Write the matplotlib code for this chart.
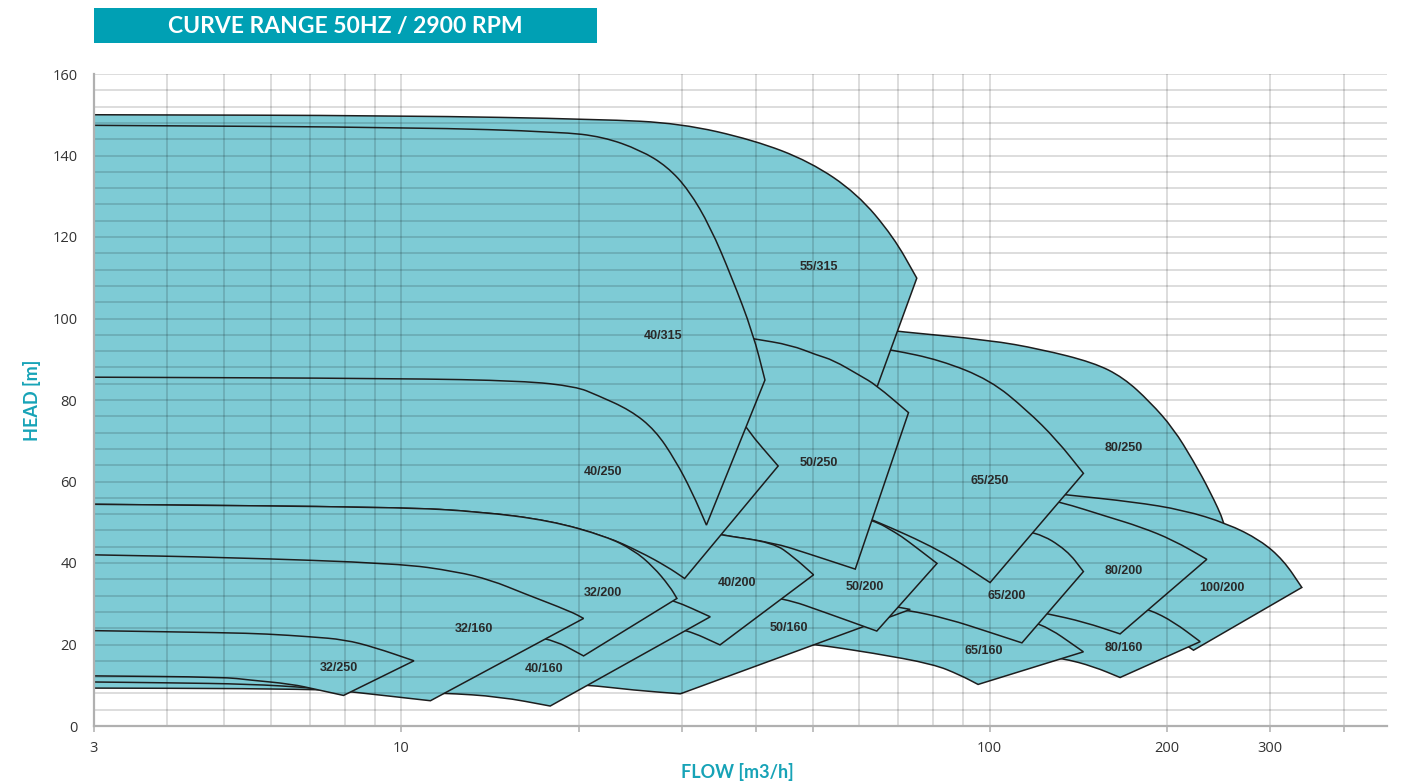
import matplotlib
matplotlib.use("Agg")
import matplotlib.pyplot as plt
from matplotlib.patches import Rectangle, PathPatch
from matplotlib.path import Path
from matplotlib.ticker import FixedLocator, NullFormatter, FixedFormatter

# pump ranges: max impeller curve (top) and min impeller curve (bottom), (Q m3/h, H m)
top_32_250 = [(3, 23.4), (5, 22.9), (5.9, 22.6), (7.0, 21.9), (8.0, 21.2), (9.0, 19.3), (10.5, 16.0)]
bot_32_250 = [(3, 12.3), (5, 12.0), (5.5, 11.3), (6.5, 10.3), (7.2, 8.9), (7.97, 7.5)]

top_32_160 = [(3, 42.0), (5, 41.4), (9.9, 39.9), (12.4, 37.9), (14.2, 35.8), (16.1, 32.6), (19.4, 28.1), (20.4, 26.4)]
bot_32_160 = [(3, 10.8), (4, 10.6), (5.5, 10.3), (7, 9.4), (8.2, 8.4), (11.2, 6.2)]

top_32_200 = [(3, 54.4), (9.9, 53.7), (13.6, 52.6), (17.9, 50.4), (22.3, 46.5), (24.8, 43.2), (26.8, 39.1), (28.6, 34.2), (29.4, 31.3)]
bot_32_200 = [(3, 27), (8, 26), (13, 24.3), (17.8, 21.8), (20.4, 17.2)]

top_40_160 = [(3, 38), (12, 37), (20, 35.5), (25, 33.5), (29.0, 30.9), (33.5, 26.8)]
bot_40_160 = [(3, 9.3), (5.5, 9.2), (8, 8.8), (11.8, 8.1), (14.7, 7.2), (17.9, 4.9)]

top_40_200 = [(3, 56), (10, 55.5), (17.9, 53.8), (22.3, 51.8), (25.4, 50.3), (30, 48.7), (34.8, 46.9), (42.9, 45.0), (46.4, 41.5), (50.2, 37.1)]
bot_40_200 = [(3, 29.5), (10, 29), (20, 27.5), (26, 25.5), (30.6, 23.6), (34.8, 19.9)]

top_40_250 = [(3, 100), (10, 99), (20, 97), (28, 92), (33, 86), (36, 80), (38.6, 72.8), (43.7, 63.8)]
bot_40_250 = [(3, 54.4), (9.9, 53.7), (13.6, 52.6), (17.9, 50.4), (22.3, 46.5), (25.4, 42.8), (28.3, 39.1), (30.3, 36.2)]

top_40_315 = [(3, 147.4), (10.6, 146.9), (18.6, 145.8), (22.0, 144.6), (25.5, 141.3), (28.3, 137.3), (30.8, 131.5),
              (33.5, 122.5), (36.4, 110.3), (39.6, 96.4), (41.5, 84.9)]
bot_40_315 = [(3, 85.6), (9.9, 85.3), (16.1, 84.7), (19.8, 83.3), (21.5, 81.2), (24.5, 77.5), (27.0, 72.6),
              (29.2, 65.3), (31.2, 57.4), (33.0, 49.3)]

top_50_160 = [(3, 37), (15, 36.5), (30, 35.2), (40, 34.3), (50, 33), (62, 30.5), (68, 29.5), (73.3, 28.6)]
bot_50_160 = [(3, 12.5), (10, 12), (15, 11.2), (20.7, 10.1), (24.8, 8.8), (29.8, 7.9)]

top_50_200 = [(3, 56.5), (30, 55.8), (45, 53.5), (55, 52.2), (63.4, 50.6), (69.5, 47.3), (72.3, 45.6), (81.4, 39.9)]
bot_50_200 = [(3, 36), (25, 35), (35, 33.5), (44.9, 31.3), (52.2, 28), (64.3, 23.3)]

top_50_250 = [(3, 98), (30, 97), (36, 96), (39.8, 95), (45.9, 93.5), (50.9, 91), (54.2, 89.8), (60.2, 86),
              (64.1, 83.7), (72.8, 76.9)]
bot_50_250 = [(3, 55.5), (10, 55.2), (17.9, 53.8), (22.3, 51.8), (25.4, 50.3), (30, 48.7), (34.8, 46.9),
              (42.9, 45.0), (48.9, 42.4), (59.1, 38.5)]

top_55_315 = [(3, 150), (10, 149.8), (21.8, 148.9), (29.8, 147.9), (39.7, 143.8), (49.5, 138.5), (59.5, 130.7),
              (68.6, 120.1), (75.2, 109.9)]
bot_55_315 = [(3, 92), (20, 90), (40, 86), (55, 80), (61.4, 75.1)]

top_65_160 = [(3, 33), (30, 32.5), (60, 31.2), (80, 29.5), (100, 27.8), (121.9, 25.6), (144.4, 18.2)]
bot_65_160 = [(3, 25), (20, 24.5), (35, 22.5), (50.2, 20.1), (63.4, 17.9), (80.2, 15.2), (89.1, 12.5), (95.6, 10.2)]

top_65_200 = [(3, 57), (30, 56.5), (50, 54), (63.4, 52), (82.4, 50.3), (100, 49), (120.3, 47.7), (135.3, 43.2), (144.4, 37.9)]
bot_65_200 = [(3, 33), (40, 31.5), (60, 30), (72.3, 28.5), (85, 26.3), (100, 23.0), (113.5, 20.4)]

top_65_250 = [(3, 95), (40, 94.8), (60, 93.5), (68.2, 92.3), (82.4, 89.8), (100.2, 84.9), (115.7, 77.5),
              (130.1, 70.2), (144.4, 62.0)]
bot_65_250 = [(3, 58), (40, 57), (55, 54), (63.4, 50.6), (82.4, 43.2), (100.2, 35.2)]

top_80_160 = [(3, 38), (50, 37.5), (90, 36), (126, 33.5), (165, 31), (187.5, 28.5), (205.4, 25.6), (228.1, 20.7)]
bot_80_160 = [(3, 24), (40, 23.5), (70, 22), (100, 19.5), (133.4, 16.6), (150.2, 14.6), (166.7, 11.9)]

top_80_200 = [(3, 63), (40, 62.5), (63.4, 61), (90, 59.5), (110, 57.5), (131.9, 55), (158.3, 51.4), (180.3, 48.9),
              (205.4, 45.6), (234.1, 40.9)]
bot_80_200 = [(3, 34), (50, 33.5), (72, 31.5), (90, 30), (110, 29), (125.2, 27.6), (145, 25.5), (166.7, 22.6)]

top_80_250 = [(3, 100), (40, 99.5), (60, 98), (70, 96.8), (100, 94.7), (121.9, 92.5), (150.2, 89.2), (168.9, 85.5),
              (187.5, 79.5), (205.4, 73), (222.2, 65), (237.2, 57.5), (251.5, 49.6), (258, 42)]
bot_80_250 = [(3, 40), (60, 39.5), (100, 37.5), (150, 34), (190, 30)]

top_100_200 = [(3, 62), (50, 61.5), (80, 60), (110, 58.2), (135.3, 56.7), (175.6, 55.0), (213.6, 53.0),
               (253.3, 49.7), (288.6, 45.6), (316, 40.7), (339.6, 34.0)]
bot_100_200 = [(3, 33), (50, 32.5), (90, 31), (125, 28.5), (166.7, 25.5), (200, 22), (215, 20), (222.2, 18.6)]

# drawn back to front, later ranges cover the hidden parts of earlier ones
pumps = [
    ("80/250", top_80_250, bot_80_250),
    ("100/200", top_100_200, bot_100_200),
    ("80/160", top_80_160, bot_80_160),
    ("80/200", top_80_200, bot_80_200),
    ("65/160", top_65_160, bot_65_160),
    ("65/200", top_65_200, bot_65_200),
    ("65/250", top_65_250, bot_65_250),
    ("55/315", top_55_315, bot_55_315),
    ("50/160", top_50_160, bot_50_160),
    ("50/200", top_50_200, bot_50_200),
    ("50/250", top_50_250, bot_50_250),
    ("40/200", top_40_200, bot_40_200),
    ("40/250", top_40_250, bot_40_250),
    ("40/315", top_40_315, bot_40_315),
    ("40/160", top_40_160, bot_40_160),
    ("32/200", top_32_200, bot_32_200),
    ("32/160", top_32_160, bot_32_160),
    ("32/250", top_32_250, bot_32_250),
]

label_at = {
    "55/315": (51.2, 112.7), "40/315": (27.9, 95.7), "40/250": (22.0, 62.4), "50/250": (51.2, 64.5),
    "65/250": (99.9, 60.0), "80/250": (168.9, 68.1), "40/200": (37.2, 35.2), "32/200": (22.0, 32.6),
    "50/200": (61.4, 34.0), "65/200": (107, 31.9), "80/200": (168.9, 38.0), "100/200": (248.3, 33.8),
    "32/160": (13.3, 23.7), "40/160": (17.5, 13.9), "50/160": (45.5, 24.1), "65/160": (97.9, 18.4),
    "80/160": (168.9, 19.1), "32/250": (7.84, 14.3),
}

x_major = [3, 10, 20, 30, 40, 50, 100, 200, 300, 400]
x_labels = ["3", "10", "", "", "", "", "100", "200", "300", ""]
x_minor = [4, 5, 6, 7, 8, 9, 60, 70, 80, 90]

TEAL = "#00A0B4"
FILL = "#7ECBD5"
EDGE = "#1e1e1e"


def mid(a, b):
    # halfway point on the log flow axis
    return ((a[0] * b[0]) ** 0.5, (a[1] + b[1]) / 2)


def curve_segments(pts):
    # quadratic bezier pieces through the midpoints, ends kept exact
    verts, codes = [], []
    if len(pts) > 2:
        verts.append(mid(pts[0], pts[1]))
        codes.append(Path.LINETO)
        for i in range(1, len(pts) - 1):
            verts += [pts[i], mid(pts[i], pts[i + 1])]
            codes += [Path.CURVE3, Path.CURVE3]
    verts.append(pts[-1])
    codes.append(Path.LINETO)
    return verts, codes


def range_paths(top, bot):
    verts, codes = [top[0]], [Path.MOVETO]
    v, c = curve_segments(top)
    verts += v
    codes += c
    rb = bot[::-1]
    verts.append(rb[0])
    codes.append(Path.LINETO)
    v, c = curve_segments(rb)
    verts += v
    codes += c
    outline = Path(verts, codes)
    area = Path(verts + [top[0]], codes + [Path.LINETO])
    return area, outline


fig = plt.figure(figsize=(14.05, 7.82), dpi=100)
ax = fig.add_axes([94 / 1405, 56 / 782, 1293 / 1405, 652 / 782])
ax.set_xscale("log")
ax.set_xlim(3, 474)
ax.set_ylim(0, 160)

z = 1.0
for name, top, bot in pumps:
    area, outline = range_paths(top, bot)
    ax.add_patch(PathPatch(area, facecolor=FILL, edgecolor="none", lw=0, zorder=z))
    ax.add_patch(PathPatch(outline, facecolor="none", edgecolor=EDGE, lw=1.1, joinstyle="miter", zorder=z + 0.01))
    z += 0.05

for name, (qx, hy) in label_at.items():
    ax.text(qx, hy, name, ha="center", va="center", fontsize=9, fontweight="bold",
            color="#2a2a2a", family=["Liberation Sans", "DejaVu Sans"], zorder=5)

ax.set_xlim(3, 474)
ax.set_ylim(0, 160)

ax.xaxis.set_major_locator(FixedLocator(x_major))
ax.xaxis.set_major_formatter(FixedFormatter(x_labels))
ax.xaxis.set_minor_locator(FixedLocator(x_minor))
ax.xaxis.set_minor_formatter(NullFormatter())
ax.yaxis.set_major_locator(FixedLocator(list(range(0, 161, 20))))
ax.yaxis.set_minor_locator(FixedLocator(list(range(0, 161, 4))))

ax.set_axisbelow(False)
ax.grid(True, which="both", color="black", alpha=0.15, lw=1.3)

ax.tick_params(axis="x", which="major", length=4, width=1.2, color="#b5b5b5", pad=7,
               labelsize=10.5, labelcolor="#333333")
ax.tick_params(axis="x", which="minor", length=0)
ax.tick_params(axis="y", which="both", length=0, pad=12, labelsize=10.5, labelcolor="#333333")
for lab in ax.get_xticklabels() + ax.get_yticklabels():
    lab.set_family(["Open Sans", "DejaVu Sans"])

for side in ("top", "right"):
    ax.spines[side].set_visible(False)
for side in ("left", "bottom"):
    ax.spines[side].set_color("#b0b0b0")
    ax.spines[side].set_linewidth(1.6)
    ax.spines[side].set_zorder(3)

# title banner
fig.add_artist(Rectangle((94 / 1405, 1 - 43 / 782), 503 / 1405, 35 / 782,
                         transform=fig.transFigure, color=TEAL, lw=0))
fig.text(345.5 / 1405, 1 - 26 / 782, "CURVE RANGE 50HZ / 2900 RPM", ha="center", va="center",
         color="white", fontsize=16.5, fontweight="bold", family=["Lato", "DejaVu Sans"])

fig.text(737 / 1405, 1 - 772 / 782, "FLOW [m3/h]", ha="center", va="center", color="#17A3B7",
         fontsize=13, fontweight="bold", family=["Lato", "DejaVu Sans"])
fig.text(32 / 1405, 1 - 400 / 782, "HEAD [m]", ha="center", va="center", rotation=90, color="#17A3B7",
         fontsize=13, fontweight="bold", family=["Lato", "DejaVu Sans"])

fig.savefig("out.png", dpi=100)
